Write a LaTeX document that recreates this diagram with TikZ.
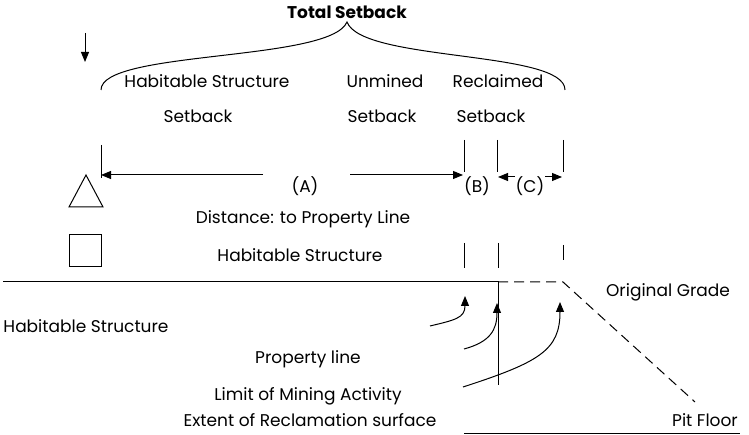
\documentclass[tikz,border=0pt]{standalone}
\usepackage{fontspec}
\setmainfont{Poppins}
\usetikzlibrary{arrows.meta}
\begin{document}
\tikzset{
    lbl/.style={font=\fontsize{17}{19}\selectfont, inner sep=0pt},
    arr/.style={-{Triangle[length=10pt,width=8pt]}},
  }
\begin{tikzpicture}[x=1pt,y=-1pt,line width=1pt]
                                    \useasboundingbox (0,0) rectangle (749,435);
                                    %titre et accolade
                                    \node[lbl,font=\fontsize{17}{19}\selectfont\bfseries](T) at (347,12) {Total Setback};
                                    \coordinate (Bl) at (101,90);
                                    \coordinate (Bt) at (347,22);
                                    \coordinate (Br) at (565,90);
                                    \draw (Bl) .. controls (101,50) and (330,62) .. (Bt) .. controls (362,62) and (565,50) .. (Br);
                                    \coordinate (D1) at (85,33);
                                    \coordinate (D2) at (85,62);
                                    \draw [arr] (D1) -- (D2);
                                    \node[lbl](hs) at (207,81) {Habitable Structure};
                                    \node[lbl](hs2) at (198,116) {Setback};
                                    \node[lbl](um) at (385,81) {Unmined};
                                    \node[lbl](um2) at (382,116) {Setback};
                                    \node[lbl](rc) at (498,81) {Reclaimed};
                                    \node[lbl](rc2) at (491,116) {Setback};
                                    %cotes
                                    \draw (101,145) -- (101,178);
                                    \draw (464,140) -- (464,172) (497,140) -- (497,172) (563,140) -- (563,172);
                                    \node[lbl](A) at (305,186) {(A)};
                                    \node[lbl](B) at (477,186) {(B)};
                                    \node[lbl](C) at (530,186) {(C)};
                                    \coordinate (A1) at (263,175);
                                    \coordinate (A2) at (101,175);
                                    \coordinate (A3) at (350,175);
                                    \coordinate (A4) at (463,175);
                                    \draw [arr] (A1) -- (A2);
                                    \draw [arr] (A3) -- (A4);
                                    \coordinate (C1) at (515,177);
                                    \coordinate (C2) at (498,177);
                                    \coordinate (C3) at (545,177);
                                    \coordinate (C4) at (562,177);
                                    \draw [arr] (C1) -- (C2);
                                    \draw [arr] (C3) -- (C4);
                                    %legende
                                    \draw (69,207) -- (86,175) -- (103,207) -- cycle;
                                    \draw (69,235) rectangle (101,267);
                                    \node[lbl](dl) at (303,219) {Distance: to Property Line};
                                    \node[lbl](hl) at (300,255) {Habitable Structure};
                                    \draw (464,243) -- (464,268) (498,243) -- (498,268) (563,245) -- (563,260);
                                    %terrain
                                    \coordinate (G0) at (3,282);
                                    \coordinate (G1) at (498,282);
                                    \coordinate (G2) at (563,282);
                                    \coordinate (G3) at (695,402);
                                    \draw (G0) -- (G1) -- (498,385);
                                    \draw [dashed,dash pattern=on 10pt off 6pt] (G1) -- (G2) -- (G3);
                                    \draw (464,433) -- (740,433);
                                    \node[lbl](og) at (668,292) {Original Grade};
                                    \node[lbl](hb) at (86,326) {Habitable Structure};
                                    \node[lbl](pl) at (308,359) {Property line};
                                    \node[lbl](lm) at (308,396) {Limit of Mining Activity};
                                    \node[lbl](er) at (310,420) {Extent of Reclamation surface};
                                    \node[lbl](pf) at (705,420) {Pit Floor};
                                    %fleches courbes
                                    \draw [arr] (430,326) .. controls (455,320) and (465,318) .. (465,296);
                                    \draw [arr] (464,349) .. controls (490,342) and (497,330) .. (497,303);
                                    \draw [arr] (463,387) .. controls (540,362) and (560,350) .. (560,302);
				  \end{tikzpicture}
\end{document}
